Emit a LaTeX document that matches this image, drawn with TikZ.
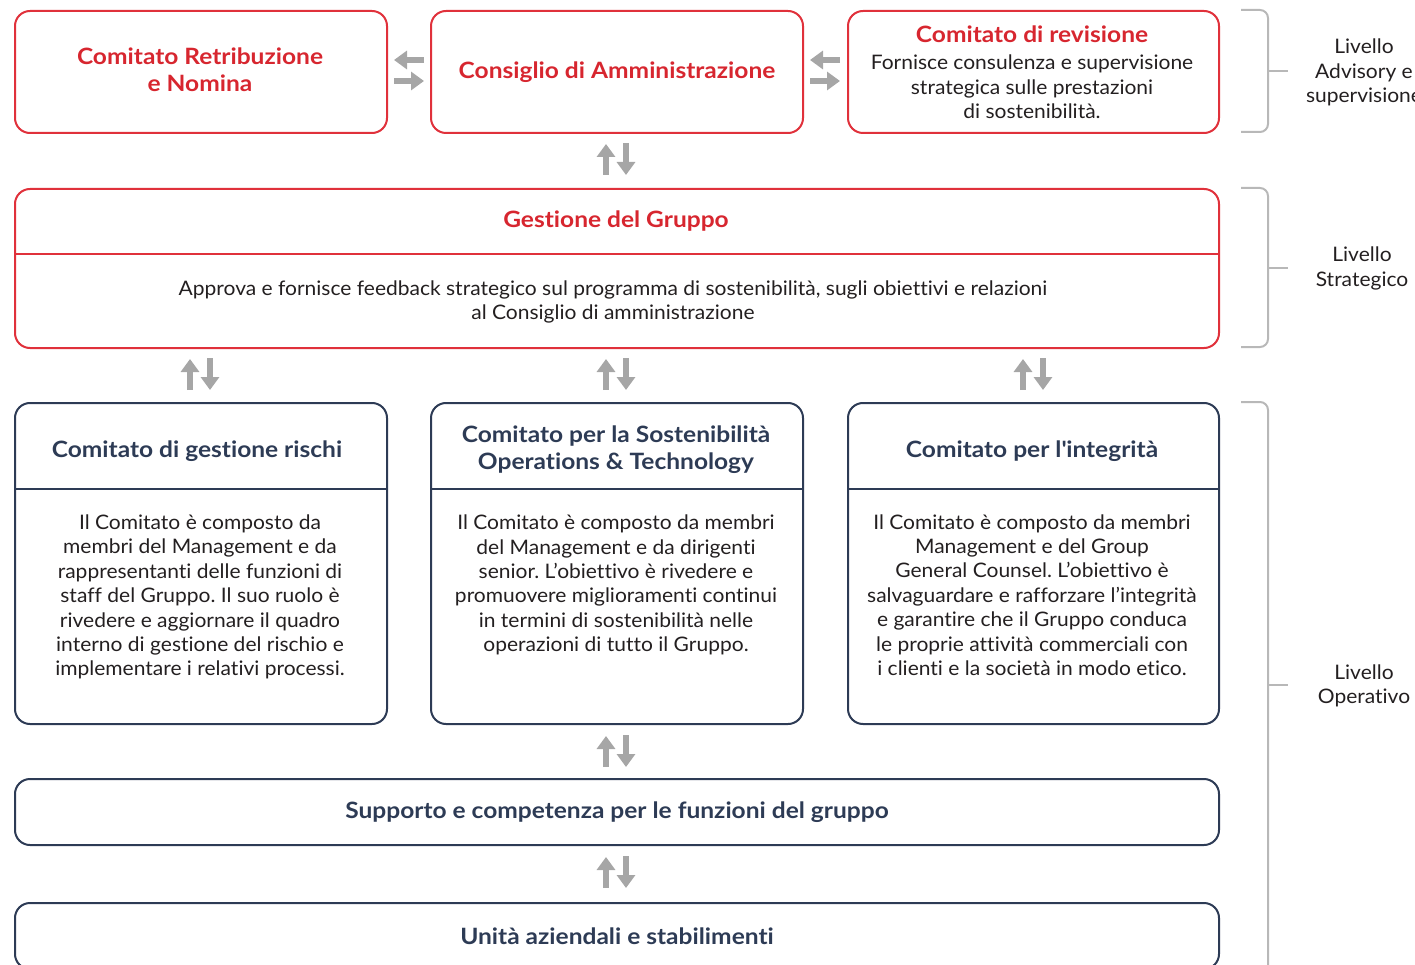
\documentclass[tikz,border=0pt]{standalone}
\usepackage{fontspec}
\setmainfont{Lato}[FakeStretch=1.05, RawFeature=-liga]
\newfontfamily\titlefam{Lato}[FakeStretch=1.09, RawFeature=-liga]
\usetikzlibrary{arrows.meta}
\definecolor{cred}{HTML}{E0313B}
\definecolor{tred}{HTML}{D7262F}
\definecolor{navy}{HTML}{2D3B55}
\definecolor{agray}{HTML}{A6A6A6}
\definecolor{bgray}{HTML}{B8B8B8}
\definecolor{body}{HTML}{231F20}
\newcommand{\bodyfont}{\fontsize{20}{24.4}\selectfont}
\newcommand{\titlefont}{\titlefam\fontsize{22.5}{27.5}\selectfont\bfseries}
\frenchspacing
\begin{document}
\begin{tikzpicture}[x=1pt,y=-1pt,
  redbox/.style={draw=cred, line width=2pt, rounded corners=15pt, anchor=north west, inner sep=0pt},
  navybox/.style={draw=navy, line width=2pt, rounded corners=15pt, anchor=north west, inner sep=0pt},
  redtitle/.style={text=tred, font=\titlefont, align=center},
  navytitle/.style={text=navy, font=\titlefont, align=center},
  bodytext/.style={text=body, font=\bodyfont, align=center, inner sep=0pt},
  arr/.style={draw=agray, line width=6pt, -{Triangle[width=18pt,length=13pt]}},
  brk/.style={draw=bgray, line width=2pt, rounded corners=8pt},
  lvl/.style={text=body, font=\bodyfont, align=center, inner sep=0pt},
  pair/.pic={
    \draw[arr] (-10,16) -- (-10,-15);
    \draw[arr] (10,-16) -- (10,16);
  }
]
\useasboundingbox (0,0) rectangle (1415,965);
\clip (0,0) rectangle (1415,965);

% top row
\node[redbox, minimum width=372pt, minimum height=122pt] (rem) at (14,10) {};
\node[redtitle, inner sep=0pt] (remt) at (200,69.5) {Comitato Retribuzione\\e Nomina};
\node[redbox, minimum width=372pt, minimum height=122pt, redtitle] (cda) at (430,10) {Consiglio di Amministrazione};
\node[redbox, minimum width=371pt, minimum height=122pt] (rev) at (847,10) {};
\node[redtitle, inner sep=0pt] (revt) at (1032,34) {Comitato di revisione};
\node[bodytext] (revb) at (1032,87) {Fornisce consulenza e supervisione\\strategica sulle prestazioni\\di sostenibilità.};

% horizontal arrow pairs
\coordinate (h1l) at (394,60); \coordinate (h1r) at (424,60);
\coordinate (h1l2) at (394,81); \coordinate (h1r2) at (424,81);
\draw[arr] (h1r) -- (h1l);
\draw[arr] (h1l2) -- (h1r2);
\coordinate (h2l) at (810,60); \coordinate (h2r) at (840,60);
\coordinate (h2l2) at (810,81); \coordinate (h2r2) at (840,81);
\draw[arr] (h2r) -- (h2l);
\draw[arr] (h2l2) -- (h2r2);

% vertical pair top
\pic at (616,159) {pair};

% Gestione del Gruppo
\node[redbox, minimum width=1204pt, minimum height=159pt] (ges) at (14,188) {};
\draw[draw=cred, line width=2pt] (ges.west |- 0,254) -- (ges.east |- 0,254);
\node[redtitle, inner sep=0pt] (gest) at (616,221.5) {Gestione del Gruppo};
\node[bodytext] (gesb) at (613,302) {Approva e fornisce feedback strategico sul programma di sostenibilità, sugli obiettivi e relazioni\\al Consiglio di amministrazione};

% arrows
\pic at (200,374) {pair};
\pic at (616,374) {pair};
\pic at (1033,374) {pair};

% three committees
\node[navybox, minimum width=372pt, minimum height=321pt] (ris) at (14,402) {};
\node[navybox, minimum width=372pt, minimum height=321pt] (sos) at (430,402) {};
\node[navybox, minimum width=371pt, minimum height=321pt] (int) at (847,402) {};
\foreach \n in {ris,sos,int}{
  \draw[draw=navy, line width=2pt] (\n.west |- 0,489) -- (\n.east |- 0,489);
}
\node[navytitle, inner sep=0pt] (rist) at (197,451) {Comitato di gestione rischi};
\node[navytitle, inner sep=0pt] (sost) at (616,449.5) {Comitato per la Sostenibilità\\Operations \& Technology};
\node[navytitle, inner sep=0pt] (intt) at (1032,451) {Comitato per l\textquotesingle integrità};
\node[bodytext] (risb) at (200,597) {Il Comitato è composto da\\membri del Management e da\\rappresentanti delle funzioni di\\staff del Gruppo. Il suo ruolo è\\rivedere e aggiornare il quadro\\interno di gestione del rischio e\\implementare i relativi processi.};
\node[bodytext] (sosb) at (616,585) {Il Comitato è composto da membri\\del Management e da dirigenti\\senior. L’obiettivo è rivedere e\\promuovere miglioramenti continui\\in termini di sostenibilità nelle\\operazioni di tutto il Gruppo.};
\node[bodytext] (intb) at (1032,595) {Il Comitato è composto da membri\\Management e del Group\\General Counsel. L’obiettivo è\\salvaguardare e rafforzare l’integrità\\e garantire che il Gruppo conduca\\le proprie attività commerciali con\\i clienti e la società in modo etico.};

\pic at (616,751) {pair};

\node[navybox, minimum width=1204pt, minimum height=66pt, navytitle] (sup) at (14,778) {Supporto e competenza per le funzioni del gruppo};

\pic at (616,872) {pair};

\node[navybox, minimum width=1204pt, minimum height=66pt, navytitle] (uni) at (14,902) {Unità aziendali e stabilimenti};

% brackets
\draw[brk] (1241,10) -- (1268,10) -- (1268,132) -- (1241,132);
\draw[draw=bgray, line width=2pt] (1268,71) -- (1288,71);
\draw[brk] (1241,188) -- (1268,188) -- (1268,347) -- (1241,347);
\draw[draw=bgray, line width=2pt] (1268,268) -- (1288,268);
\draw[brk] (1241,402) -- (1268,402) -- (1268,990) -- (1241,990);
\draw[draw=bgray, line width=2pt] (1268,685) -- (1288,685);

\node[lvl] (l1) at (1364,72.5) {Livello\\Advisory e\\supervisione};
\node[lvl] (l2) at (1362,268.5) {Livello\\Strategico};
\node[lvl] (l3) at (1364,686) {Livello\\Operativo};
\end{tikzpicture}
\end{document}
